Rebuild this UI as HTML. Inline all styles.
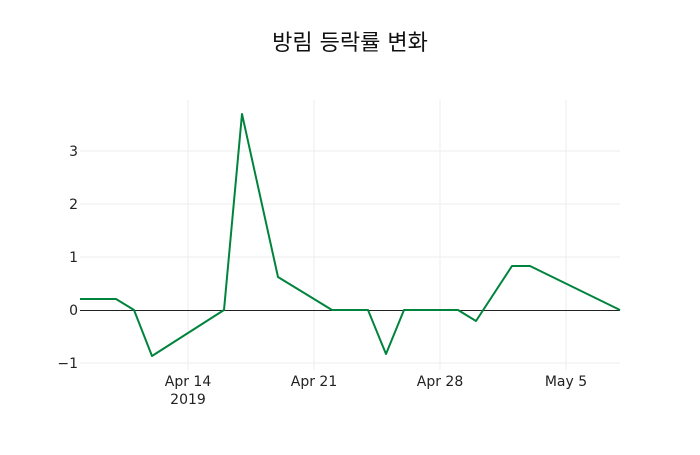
<!DOCTYPE html>
<html><head><meta charset="utf-8"><style>
body{margin:0;background:#fff;}
svg text{font-family:"DejaVu Sans","Noto Sans CJK KR",sans-serif;fill:#222;}
</style></head><body>
<svg width="700" height="450" xmlns="http://www.w3.org/2000/svg">
<rect width="700" height="450" fill="#fff"/>
<g stroke="#eee" stroke-width="1">
<line x1="188" y1="100" x2="188" y2="370"/>
<line x1="314" y1="100" x2="314" y2="370"/>
<line x1="440" y1="100" x2="440" y2="370"/>
<line x1="566" y1="100" x2="566" y2="370"/>
<line x1="80" y1="151" x2="620" y2="151"/>
<line x1="80" y1="204" x2="620" y2="204"/>
<line x1="80" y1="257" x2="620" y2="257"/>
<line x1="80" y1="363" x2="620" y2="363"/>
</g>
<line x1="80" y1="310.5" x2="620" y2="310.5" stroke="#222" stroke-width="1" shape-rendering="crispEdges"/>
<polyline fill="none" stroke="#00843d" stroke-width="2" stroke-linejoin="round"
points="80,299 116,299 134,310 152,356 224,310 242,114 278,277 332,310 368,310 386,354 404,310 458,310 476,321 512,266 530,266 620,310"/>
<g font-size="14" text-anchor="end">
<text x="78" y="156">3</text>
<text x="78" y="209">2</text>
<text x="78" y="262">1</text>
<text x="78" y="315">0</text>
<text x="78" y="368">−1</text>
</g>
<g font-size="14" text-anchor="middle">
<text x="188" y="386">Apr 14</text>
<text x="188" y="404">2019</text>
<text x="314" y="386">Apr 21</text>
<text x="440" y="386">Apr 28</text>
<text x="566" y="386">May 5</text>
</g>
<text x="350" y="50" font-size="22" text-anchor="middle" style="fill:#111">방림 등락률 변화</text>
</svg>
</body></html>
